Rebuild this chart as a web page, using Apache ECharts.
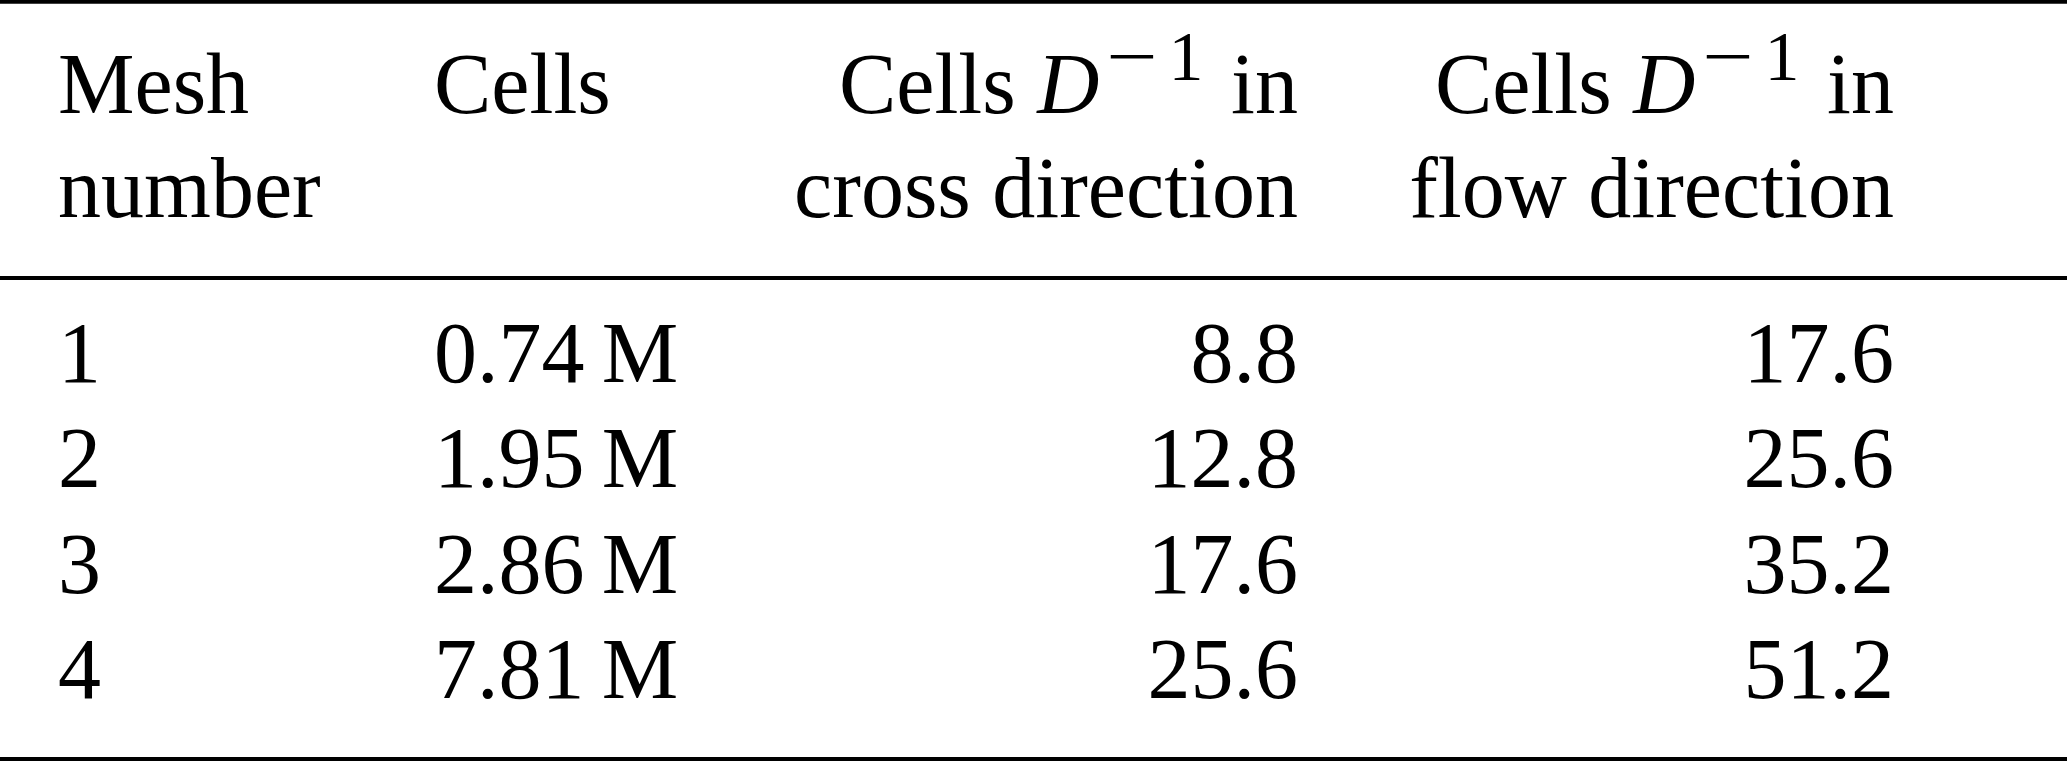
<!DOCTYPE html>
<html>
<head>
<meta charset="utf-8">
<script src="https://cdn.jsdelivr.net/npm/echarts@6/dist/echarts.min.js"></script>
<style>
  html, body { margin: 0; padding: 0; background: #ffffff; }
  #chart { width: 2067px; height: 761px; }
</style>
</head>
<body>
<div id="chart"></div>
<script>
// ---------------- DATA ----------------
const headerTop    = ['Mesh', 'Cells', 'Cells D^-1 in', 'Cells D^-1 in'];
const headerBottom = ['number', '', 'cross direction', 'flow direction'];
const meshNumbers  = [1, 2, 3, 4];
const cellsMillion = [0.74, 1.95, 2.86, 7.81];
const cellsCross   = [8.8, 12.8, 17.6, 25.6];
const cellsFlow    = [17.6, 25.6, 35.2, 51.2];

// ---------------- LAYOUT / STYLE ----------------
const FONT_FAMILY = 'Liberation Serif';
const FS = 86;          // main font size
const SUP_FS = 70;      // superscript font size
const SUP_RAISE = 32.5; // superscript baseline raise
const COLS = [
  { x: 58,   align: 'left'  },
  { x: 434,  align: 'left'  },
  { x: 1298, align: 'right' },
  { x: 1894, align: 'right' }
];
const ROW_BASELINES = [112.7, 216.7, 381.5, 487, 592.5, 698];
const RULE_Y = [1.8, 278, 759];
const RULE_WIDTH = 4;
const W = 2067, H = 761;

// ---------------- TEXT HELPERS ----------------
function fontStr(size, italic) {
  return (italic ? 'italic ' : '') + size + 'px "' + FONT_FAMILY + '"';
}
function textStyle(t, size, italic) {
  return {
    text: t,
    font: fontStr(size, italic),
    fill: '#000000',
    align: 'left',
    verticalAlign: 'middle'
  };
}
const mctx = document.createElement('canvas').getContext('2d');
function measure(t, size, italic) {
  try {
    const el = new echarts.graphic.Text({ style: textStyle(t, size, italic) });
    const r = el.getBoundingRect();
    if (r && r.width > 0) return r.width;
  } catch (e) {}
  mctx.font = fontStr(size, italic);
  return mctx.measureText(t).width;
}
const midCache = {};
function midOffset(size, italic) {
  const k = size + (italic ? 'i' : 'n');
  if (midCache[k] == null) {
    mctx.font = fontStr(size, italic);
    mctx.textBaseline = 'middle';
    const m = mctx.measureText('H');
    let d = m.actualBoundingBoxDescent;
    if (!(d > 0 && d < size)) d = 0.31 * size;
    midCache[k] = d;
    mctx.textBaseline = 'alphabetic';
  }
  return midCache[k];
}
// turn "Cells D^-1 in" into typeset segments
function segmentsOf(text) {
  const m = /^(.*?)(\S)\^(-?\d+)(.*)$/.exec(text);
  if (!m) return [{ t: text, size: FS, italic: false, gap: 0, rise: 0, sx: 1 }];
  const segs = [];
  segs.push({ t: m[1], size: FS, italic: false, gap: 0, rise: 0, sx: 1 });
  segs.push({ t: m[2], size: FS, italic: true, gap: 0, rise: 0, sx: 1 });
  const sup = m[3];
  if (sup[0] === '-') {
    segs.push({ t: '\u2212', size: SUP_FS, italic: false, gap: 7, rise: SUP_RAISE, sx: 1.3 });
    segs.push({ t: sup.slice(1), size: SUP_FS, italic: false, gap: 11, rise: SUP_RAISE, sx: 1 });
  } else {
    segs.push({ t: sup, size: SUP_FS, italic: false, gap: 7, rise: SUP_RAISE, sx: 1 });
  }
  segs.push({ t: m[4], size: FS, italic: false, gap: 6, rise: 0, sx: 1 });
  return segs;
}

// ---------------- CELLS ----------------
const cells = [];
headerTop.forEach((t, c) => { if (t) cells.push({ col: c, row: 0, text: t }); });
headerBottom.forEach((t, c) => { if (t) cells.push({ col: c, row: 1, text: t }); });
meshNumbers.forEach((v, r) => {
  cells.push({ col: 0, row: 2 + r, text: String(v) });
  cells.push({ col: 1, row: 2 + r, text: cellsMillion[r].toFixed(2) + '\u2009M' });
  cells.push({ col: 2, row: 2 + r, text: cellsCross[r].toFixed(1) });
  cells.push({ col: 3, row: 2 + r, text: cellsFlow[r].toFixed(1) });
});

function renderCell(params, api) {
  const cell = cells[params.dataIndex];
  const col = COLS[api.value(0)];
  const base = ROW_BASELINES[api.value(1)];
  const pt = api.coord([col.x, base]);
  const segs = segmentsOf(cell.text);
  let total = 0;
  segs.forEach(s => { s.w = measure(s.t, s.size, s.italic) * s.sx; total += s.gap + s.w; });
  let x = col.align === 'left' ? pt[0] : pt[0] - total;
  const children = [];
  segs.forEach(s => {
    x += s.gap;
    children.push({
      type: 'text',
      x: x,
      y: pt[1] - s.rise - midOffset(s.size, s.italic),
      scaleX: s.sx,
      style: textStyle(s.t, s.size, s.italic)
    });
    x += s.w;
  });
  return { type: 'group', children: children };
}

function renderRule(params, api) {
  const y = RULE_Y[api.value(0)];
  const p0 = api.coord([0, y]);
  const p1 = api.coord([W, y]);
  return {
    type: 'line',
    shape: { x1: p0[0], y1: p0[1], x2: p1[0], y2: p1[1] },
    style: { stroke: '#000000', lineWidth: RULE_WIDTH }
  };
}

const chart = echarts.init(document.getElementById('chart'), null, { renderer: 'canvas' });
chart.setOption({
  backgroundColor: '#ffffff',
  animation: false,
  textStyle: { fontFamily: FONT_FAMILY, color: '#000000' },
  grid: { left: 0, right: 0, top: 0, bottom: 0, containLabel: false },
  xAxis: { type: 'value', min: 0, max: W, show: false },
  yAxis: { type: 'value', min: 0, max: H, inverse: true, show: false },
  series: [
    {
      type: 'custom',
      name: 'rules',
      silent: true,
      clip: false,
      renderItem: renderRule,
      data: RULE_Y.map((_, i) => [i])
    },
    {
      type: 'custom',
      name: 'cells',
      silent: true,
      clip: false,
      renderItem: renderCell,
      data: cells.map(c => [c.col, c.row])
    }
  ]
});
</script>
</body>
</html>
